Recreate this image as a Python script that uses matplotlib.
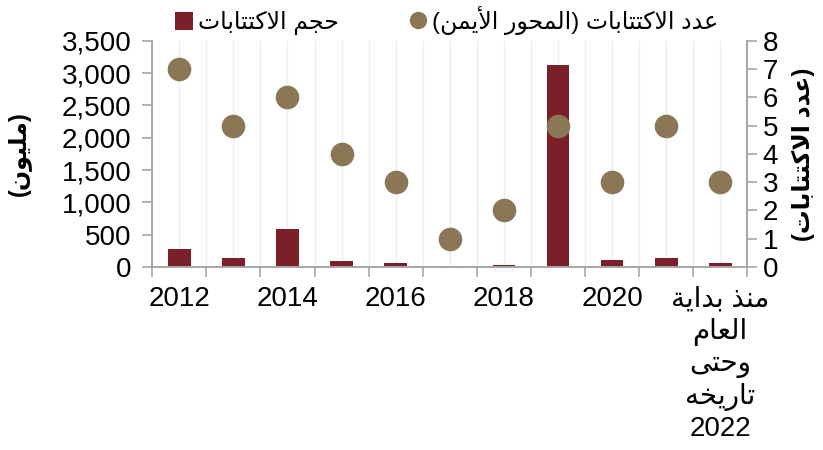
import matplotlib
matplotlib.use("Agg")
import matplotlib.pyplot as plt
import numpy as np
from matplotlib.ticker import FuncFormatter, MultipleLocator

plt.rcParams['font.family'] = ['Liberation Sans', 'DejaVu Sans']

# data
years = ['2012', '2013', '2014', '2015', '2016', '2017', '2018', '2019', '2020', '2021', 'منذ بداية\nالعام\nوحتى\nتاريخه\n2022']
volume = [270, 140, 590, 95, 60, 12, 30, 3130, 100, 140, 55]
count = [7, 5, 6, 4, 3, 1, 2, 5, 3, 5, 3]

bar_color = '#7b1f28'
dot_color = '#8b7755'
axis_grey = '#a6a6a6'

# simple arabic shaping (matplotlib has no bidi / joining support)
FORMS = {
    'ا': ('\uFE8D', '\uFE8E', None, None),
    'أ': ('\uFE83', '\uFE84', None, None),
    'ب': ('\uFE8F', '\uFE90', '\uFE91', '\uFE92'),
    'ة': ('\uFE93', '\uFE94', None, None),
    'ت': ('\uFE95', '\uFE96', '\uFE97', '\uFE98'),
    'ج': ('\uFE9D', '\uFE9E', '\uFE9F', '\uFEA0'),
    'ح': ('\uFEA1', '\uFEA2', '\uFEA3', '\uFEA4'),
    'خ': ('\uFEA5', '\uFEA6', '\uFEA7', '\uFEA8'),
    'د': ('\uFEA9', '\uFEAA', None, None),
    'ذ': ('\uFEAB', '\uFEAC', None, None),
    'ر': ('\uFEAD', '\uFEAE', None, None),
    'ع': ('\uFEC9', '\uFECA', '\uFECB', '\uFECC'),
    'ك': ('\uFED9', '\uFEDA', '\uFEDB', '\uFEDC'),
    'ل': ('\uFEDD', '\uFEDE', '\uFEDF', '\uFEE0'),
    'م': ('\uFEE1', '\uFEE2', '\uFEE3', '\uFEE4'),
    'ن': ('\uFEE5', '\uFEE6', '\uFEE7', '\uFEE8'),
    'ه': ('\uFEE9', '\uFEEA', '\uFEEB', '\uFEEC'),
    'و': ('\uFEED', '\uFEEE', None, None),
    'ى': ('\uFEEF', '\uFEF0', None, None),
    'ي': ('\uFEF1', '\uFEF2', '\uFEF3', '\uFEF4'),
}
LAMALEF = {'ا': ('\uFEFB', '\uFEFC'), 'أ': ('\uFEF7', '\uFEF8')}


def dual(c):
    return c in FORMS and FORMS[c][2] is not None


def shape_line(s):
    out = []
    i = 0
    while i < len(s):
        c = s[i]
        prev = s[i - 1] if i > 0 else ''
        joins_prev = dual(prev)
        if c == 'ل' and i + 1 < len(s) and s[i + 1] in LAMALEF:
            out.append(LAMALEF[s[i + 1]][1 if joins_prev else 0])
            i += 2
            continue
        if c not in FORMS:
            out.append(c)
            i += 1
            continue
        nxt = s[i + 1] if i + 1 < len(s) else ''
        joins_next = dual(c) and nxt in FORMS
        iso, fin, ini, med = FORMS[c]
        if joins_prev and joins_next:
            out.append(med)
        elif joins_prev:
            out.append(fin)
        elif joins_next:
            out.append(ini)
        else:
            out.append(iso)
        i += 1
    vis = ''.join(reversed(out))
    if any(ch in FORMS for ch in s):
        vis = vis.translate(str.maketrans('()', ')('))
    else:
        vis = s
    return vis


def ar(s):
    return '\n'.join(shape_line(line) for line in s.split('\n'))


fig = plt.figure(figsize=(8.23, 4.5), dpi=100)
ax = fig.add_axes([0.185, 0.407, 0.723, 0.502])
ax2 = ax.twinx()

x = np.arange(len(years))
ax.bar(x, volume, width=0.42, color=bar_color, zorder=2, label=ar('حجم الاكتتابات'))
ax2.plot(x, count, 'o', ms=16, color=dot_color, zorder=3, label=ar('عدد الاكتتابات (المحور الأيمن)'))

ax.set_xlim(-0.5, len(years) - 0.5)
ax.set_ylim(0, 3500)
ax2.set_ylim(0, 8)
ax.yaxis.set_major_locator(MultipleLocator(500))
ax.yaxis.set_major_formatter(FuncFormatter(lambda v, p: f'{int(v):,}'))
ax2.yaxis.set_major_locator(MultipleLocator(1))

# labels on centres (every other year), ticks on boundaries
labels = [ar(y) if i % 2 == 0 else '' for i, y in enumerate(years)]
ax.set_xticks(x)
ax.set_xticklabels(labels, fontsize=20, linespacing=1.25)
ax.set_xticks(np.arange(-0.5, len(years)), minor=True)
ax.tick_params(axis='x', which='major', length=0, pad=14)
ax.tick_params(axis='x', which='minor', length=7, color=axis_grey, width=1.2)
ax.tick_params(axis='y', labelsize=20, length=7, color=axis_grey, width=1.2, pad=8)
ax2.tick_params(axis='y', labelsize=20, length=7, color=axis_grey, width=1.2, pad=4)

ax.grid(axis='x', which='both', color='#ededed', lw=1, zorder=0)
ax.set_axisbelow(True)

for a in (ax, ax2):
    a.spines['top'].set_visible(False)
    for s in ('left', 'right', 'bottom'):
        a.spines[s].set_color(axis_grey)
        a.spines[s].set_linewidth(1.2)

ax.set_ylabel(ar('(مليون)'), fontsize=17, fontweight='bold', labelpad=22)
ax2.set_ylabel(ar('(عدد الاكتتابات)'), fontsize=17, fontweight='bold', rotation=90, labelpad=10)

h1, l1 = ax.get_legend_handles_labels()
h2, l2 = ax2.get_legend_handles_labels()
fig.legend(h1 + h2, l1 + l2, loc='center', bbox_to_anchor=(0.543, 0.955), ncol=2,
           frameon=False, fontsize=17, handlelength=0.75, handleheight=0.8,
           handletextpad=0.2, columnspacing=3.0, markerscale=0.72)

fig.savefig('out.png', dpi=100)
